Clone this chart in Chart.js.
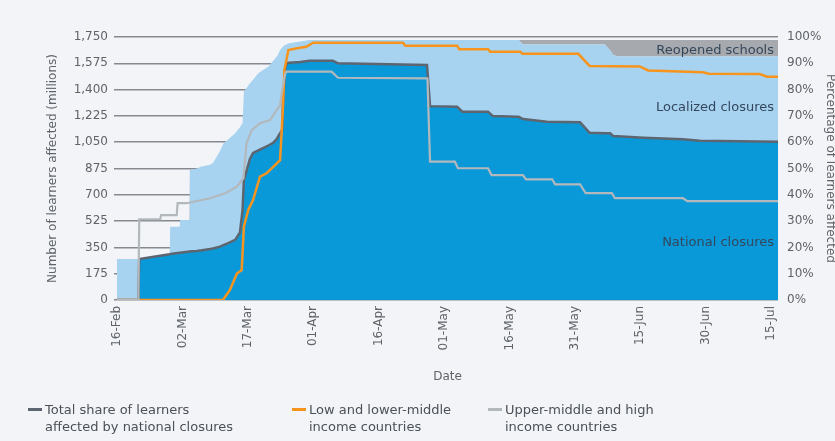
<!DOCTYPE html>
<html><head><meta charset="utf-8">
<script src="https://cdn.jsdelivr.net/npm/chart.js@4.4.1/dist/chart.umd.min.js"></script>
<style>
html,body{margin:0;padding:0;background:#f2f4f7;}
#wrap{position:relative;width:835px;height:441px;overflow:hidden;font-family:"DejaVu Sans",sans-serif;background:#f2f4f7;}
canvas{position:absolute;left:0;top:0;}
.leg{position:absolute;top:401px;font-size:13px;line-height:17px;color:#4b5158;white-space:nowrap;}
.leg i{position:absolute;left:-17px;top:7px;width:14px;height:3px;}
</style></head><body>
<div id="wrap"><canvas id="c" width="835" height="441"></canvas>
<div class="leg" style="left:45px"><i style="background:#5d6670"></i>Total share of learners<br>affected by national closures</div>
<div class="leg" style="left:309px"><i style="background:#f7941d"></i>Low and lower-middle<br>income countries</div>
<div class="leg" style="left:505px"><i style="background:#b3b8bd"></i>Upper-middle and high<br>income countries</div>
</div>
<script>
// x positions are days since 16-Feb-2020
const tickDays = [0,15,30,45,60,75,90,105,120,135,150];
const tickLabels = ['16-Feb','02-Mar','17-Mar','01-Apr','16-Apr','01-May','16-May','31-May','15-Jun','30-Jun','15-Jul'];
const lastDay = 151.6;

const areaDays = [0,4.9,5.1,9.9,12.1,12.2,14.4,14.5,16.6,16.7,18.3,19.2,21.3,22.0,23.6,24.4,25.5,27.1,28.2,28.8,29.1,30.5,31.2,32.4,33.5,34.7,35.8,36.6,36.9,37.4,37.9,38.1,38.6,39.0,39.5,42.0,44.2,49.5,50.7,71.1,71.8,78.0,79.2,85.1,86.2,91.8,92.1,93.1,98.6,106.2,108.4,111.9,113.1,113.8,114.9,120.7,129.8,133.7,151.6];
// learners affected (millions)
const nationalClosures = [0,0,273,295,305,306,314,315,322,323,326,330,339,343,355,365,378,400,450,600,798,940,978,995,1011,1028,1045,1070,1085,1110,1131,1351,1550,1577,1579,1584,1592,1592,1575,1564,1290,1286,1253,1253,1224,1220,1219,1204,1186,1182,1113,1110,1109,1091,1089,1080,1069,1060,1053];
const localizedClosures = [273,273,0,0,0,182,174,217,210,542,549,557,561,568,635,677,690,710,700,578,587,502,487,513,519,524,545,549,545,553,549,337,147,126,129,136,138,138,155,166,440,444,477,477,506,510,511,496,514,518,587,590,551,539,531,540,551,560,567];
const reopenedSchools = [0,0,0,0,0,0,0,0,0,0,0,0,0,0,0,0,0,0,0,0,0,0,0,0,0,0,0,0,0,0,0,0,0,0,0,0,0,0,0,0,0,0,0,0,0,0,0,30,30,30,30,30,70,100,110,110,110,110,110];

// percentage of learners affected, low and lower-middle income countries
const lowIncomeDays = [0,24.3,25.9,27.5,28.6,29.1,30.1,31.2,32.8,34.3,35.9,37.4,38.0,38.4,39.3,41.3,43.4,45.0,65.6,66.1,78.0,78.5,85.1,85.6,92.5,93.0,105.8,108.4,119.9,121.8,134.4,135.7,147.4,149.1,151.6];
const lowIncomePct = [0,0,3.8,10.1,11.4,27.9,34.2,38.0,46.9,48.2,50.7,53.2,71.0,87.5,95.0,95.7,96.3,97.8,97.8,96.7,96.7,95.3,95.3,94.4,94.4,93.6,93.6,89.0,88.8,87.3,86.6,86.0,85.9,84.9,84.9];

// percentage of learners affected, upper-middle and high income countries
const highIncomeDays = [0,4.9,5.1,9.9,10.1,13.7,13.9,16.0,21.3,24.8,27.5,29.0,29.7,30.9,32.8,35.1,36.6,37.4,38.0,38.6,38.9,49.2,50.7,71.2,71.8,77.5,78.2,85.1,85.9,93.1,93.8,99.8,100.5,106.2,107.5,113.5,114.2,129.8,130.8,151.6];
const highIncomePct = [0,0,30.7,30.7,32.3,32.3,36.8,36.8,38.7,40.6,43.1,46.3,59.6,64.6,67.2,68.4,72.2,74.1,81.1,86.2,86.8,86.8,84.5,84.3,52.6,52.6,50.1,50.1,47.5,47.5,45.9,45.9,44.0,44.0,40.6,40.6,38.7,38.7,37.6,37.6];

const pts = (xs, ys) => xs.map((x, i) => ({x, y: ys[i]}));

const areaLabels = {
  id: 'areaLabels',
  afterDatasetsDraw(chart) {
    const {ctx, chartArea, scales} = chart;
    ctx.save();
    ctx.font = '13px "DejaVu Sans"';
    ctx.fillStyle = '#34475c';
    ctx.textAlign = 'right';
    ctx.textBaseline = 'middle';
    const x = chartArea.right - 4;
    ctx.fillText('Reopened schools', x, scales.y.getPixelForValue(1662));
    ctx.fillText('Localized closures', x, scales.y.getPixelForValue(1282));
    ctx.fillText('National closures', x, scales.y.getPixelForValue(380));
    ctx.restore();
  }
};

const tickFont = {family: '"DejaVu Sans"', size: 12};
new Chart(document.getElementById('c'), {
  type: 'line',
  data: {
    datasets: [
      {label: 'National closures', data: pts(areaDays, nationalClosures), yAxisID: 'y', stack: 'areas', fill: 'origin',
       backgroundColor: '#0a99d8', borderColor: 'rgba(0,0,0,0)', borderWidth: 0, pointRadius: 0, order: 10},
      {label: 'Localized closures', data: pts(areaDays, localizedClosures), yAxisID: 'y', stack: 'areas', fill: '-1',
       backgroundColor: '#a7d3f1', borderColor: 'rgba(0,0,0,0)', borderWidth: 0, pointRadius: 0, order: 11},
      {label: 'Reopened schools', data: pts(areaDays, reopenedSchools), yAxisID: 'y', stack: 'areas', fill: '-1',
       backgroundColor: '#a6a9ad', borderColor: 'rgba(0,0,0,0)', borderWidth: 0, pointRadius: 0, order: 12},
      {label: 'Total share of learners affected by national closures', data: pts(areaDays, nationalClosures), yAxisID: 'y', stack: 'line',
       fill: false, borderColor: '#5d6670', borderWidth: 2.5, pointRadius: 0, order: 3},
      {label: 'Low and lower-middle income countries', data: pts(lowIncomeDays, lowIncomePct), yAxisID: 'y1',
       fill: false, borderColor: '#f7941d', borderWidth: 2.5, pointRadius: 0, order: 2},
      {label: 'Upper-middle and high income countries', data: pts(highIncomeDays, highIncomePct), yAxisID: 'y1',
       fill: false, borderColor: '#b3b8bd', borderWidth: 2.2, pointRadius: 0, order: 1}
    ]
  },
  options: {
    responsive: false,
    animation: false,
    events: [],
    layout: {padding: {top: 37, right: 0, bottom: 53, left: 0}},
    plugins: {legend: {display: false}, tooltip: {enabled: false}},
    elements: {line: {tension: 0}},
    scales: {
      x: {
        type: 'linear', min: 0, max: lastDay,
        afterBuildTicks: s => { s.ticks = tickDays.map(v => ({value: v})); },
        afterFit: s => { s.height = 88; },
        ticks: {autoSkip: false, minRotation: 90, maxRotation: 90, padding: 6, color: '#5f6369', font: tickFont,
                callback: v => tickLabels[tickDays.indexOf(v)]},
        grid: {display: false, drawTicks: false},
        border: {display: false},
        title: {display: true, text: 'Date', color: '#5f6369', font: tickFont, padding: {top: 0, bottom: 4}}
      },
      y: {
        stacked: true, min: 0, max: 1750, position: 'left',
        afterFit: s => { s.width = 117; },
        ticks: {stepSize: 175, padding: 6, color: '#5f6369', font: tickFont,
                callback: v => v.toLocaleString('en-US')},
        grid: {color: '#868a90', lineWidth: 1.5, tickLength: 3},
        border: {display: false},
        title: {display: true, text: 'Number of learners affected (millions)', color: '#5f6369', font: tickFont, padding: {top: 46, bottom: 0}}
      },
      y1: {
        min: 0, max: 100, position: 'right',
        afterFit: s => { s.width = 57; },
        ticks: {stepSize: 10, padding: 9, color: '#5f6369', font: tickFont, callback: v => v + '%'},
        grid: {display: false, drawTicks: false},
        border: {display: false},
        title: {display: true, text: 'Percentage of learners affected', color: '#5f6369', font: tickFont, padding: {top: -2, bottom: 0}}
      }
    }
  },
  plugins: [areaLabels]
});
</script>
</body></html>
